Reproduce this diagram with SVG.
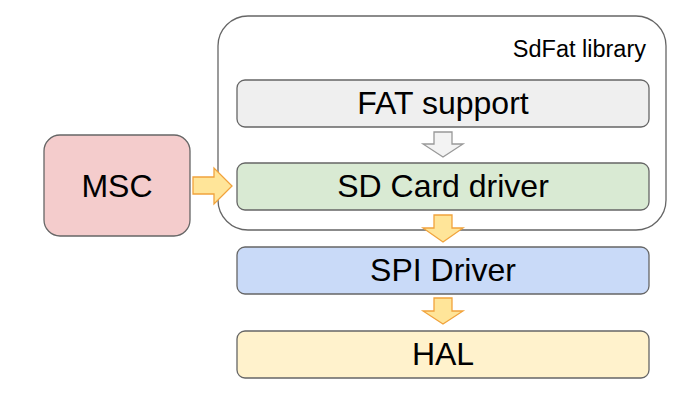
<svg xmlns="http://www.w3.org/2000/svg" width="689" height="405" viewBox="0 0 689 405">
<style>
.box{stroke:#666666;stroke-width:1.3}
.t{font-family:"Liberation Sans",Arial,sans-serif;fill:#000;text-anchor:middle}
.oa{fill:#ffe599;stroke:#f1a33c;stroke-width:1.3;stroke-linejoin:miter}
.ga{fill:#f3f3f3;stroke:#999999;stroke-width:1.3}
</style>
<rect width="689" height="405" fill="#ffffff"/>
<g id="sdfat-library">
<rect class="box" x="218" y="16" width="448" height="214" rx="30" fill="#ffffff"/>
<text class="t" x="646" y="57" font-size="23.5" style="text-anchor:end">SdFat library</text>
</g>
<g id="fat-support">
<rect class="box" x="237" y="80" width="412" height="47" rx="8" fill="#efefef"/>
<text class="t" x="443" y="114" font-size="32">FAT support</text>
</g>
<g id="sd-card-driver">
<rect class="box" x="237" y="163" width="412" height="47" rx="8" fill="#d9ead3"/>
<text class="t" x="443" y="197" font-size="32">SD Card driver</text>
</g>
<g id="spi-driver">
<rect class="box" x="237" y="247" width="412" height="47" rx="8" fill="#c9daf8"/>
<text class="t" x="443" y="281" font-size="32">SPI Driver</text>
</g>
<g id="hal">
<rect class="box" x="237" y="331" width="412" height="47" rx="8" fill="#fff2cc"/>
<text class="t" x="443" y="365" font-size="32">HAL</text>
</g>
<g id="msc">
<rect class="box" x="44" y="135" width="146" height="101" rx="16" fill="#f4cccc"/>
<text class="t" x="117" y="197" font-size="32">MSC</text>
</g>
<g id="connectors">
<path class="ga" d="M434,132 H452 V144 H463 L443,157 L423,144 H434 Z"/>
<path class="oa" d="M434,215 H452 V228 H463 L443,242 L423,228 H434 Z"/>
<path class="oa" d="M434,298 H452 V311 H463 L443,324 L423,311 H434 Z"/>
<path class="oa" d="M193,177 H214 V168 L232,186 L214,204 V194 H193 Z"/>
</g>
</svg>
